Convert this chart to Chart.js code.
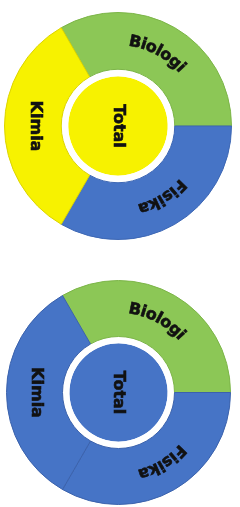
<!DOCTYPE html>
<html>
<head>
<meta charset="utf-8">
<script src="https://cdn.jsdelivr.net/npm/chart.js@4/dist/chart.umd.min.js"></script>
<style>
  html, body { margin: 0; padding: 0; background: #fff; }
  #wrap { position: relative; width: 240px; height: 507px; overflow: hidden; }
  canvas { position: absolute; left: 0; }
  #c1 { top: 0; }
  #c2 { top: 253px; }
</style>
</head>
<body>
<div id="wrap">
  <canvas id="c1" width="240" height="253"></canvas>
  <canvas id="c2" width="240" height="254"></canvas>
</div>
<script>
// mata pelajaran - tiga bagian sama besar
const subjects    = ['Biologi', 'Fisika', 'Kimia']
const shares      = [1, 1, 1]
const centerLabel = 'Total'
const centerValue = [1]
const gapValue    = [1]

// warna per grafik
const topColors    = ['#8cc756', '#4674c6', '#f7f200']
const topBorders   = ['#7cb548', '#3d67b4', '#dcd400']
const topCenter    = '#f7f200'
const bottomColors  = ['#8cc756', '#4674c6', '#4674c6']
const bottomBorders = ['#7cb548', '#3b62ac', '#3b62ac']
const bottomCenter  = '#4674c6'

const straightLabels = ['Kimia']
const FONT = 'bold 16px "DejaVu Sans", sans-serif'

function arcText (ctx, text, cx, cy, r, mid) {
  const total = ctx.measureText(text).width
  let a = mid - total / r / 2
  for (const ch of text) {
    const w = ctx.measureText(ch).width
    const ang = a + w / r / 2
    ctx.save()
    ctx.translate(cx + r * Math.cos(ang), cy + r * Math.sin(ang))
    ctx.rotate(ang + Math.PI / 2)
    ctx.strokeText(ch, 0, 0)
    ctx.fillText(ch, 0, 0)
    ctx.restore()
    a += w / r
  }
}

function flatText (ctx, text, x, y) {
  ctx.save()
  ctx.translate(x, y)
  ctx.rotate(Math.PI / 2)
  ctx.strokeText(text, 0, 0)
  ctx.fillText(text, 0, 0)
  ctx.restore()
}

const labelPlugin = {
  id: 'ringLabels',
  afterDatasetsDraw (chart) {
    const ctx = chart.ctx
    ctx.save()
    ctx.font = FONT
    ctx.fillStyle = '#111'
    ctx.strokeStyle = '#111'
    ctx.lineWidth = 0.6
    ctx.textAlign = 'center'
    ctx.textBaseline = 'middle'

    const meta = chart.getDatasetMeta(0)
    meta.data.forEach((el, i) => {
      const { x, y, startAngle, endAngle, innerRadius, outerRadius } =
        el.getProps(['x', 'y', 'startAngle', 'endAngle', 'innerRadius', 'outerRadius'], true)
      const mid = (startAngle + endAngle) / 2
      const r = (innerRadius + outerRadius) / 2
      const name = chart.data.labels[i]
      if (straightLabels.includes(name)) {
        flatText(ctx, name, x + (r - 2) * Math.cos(mid), y + r * Math.sin(mid))
      } else {
        arcText(ctx, name, x, y, r, mid - 0.03)
      }
    })

    const inner = chart.getDatasetMeta(2).data[0]
    if (inner) flatText(ctx, centerLabel, inner.x, inner.y)
    ctx.restore()
  }
}

function makeChart (id, colors, borders, centerColor, padding) {
  return new Chart(document.getElementById(id), {
    type: 'pie',
    data: {
      labels: subjects,
      datasets: [
        { data: shares, backgroundColor: colors, borderColor: borders, borderWidth: 1, weight: 57 },
        { data: gapValue, backgroundColor: '#ffffff', borderWidth: 0, weight: 7 },
        { data: centerValue, backgroundColor: centerColor, borderWidth: 0, weight: 50 }
      ]
    },
    options: {
      responsive: false,
      animation: false,
      rotation: -30,
      layout: { padding },
      plugins: { legend: { display: false }, tooltip: { enabled: false } }
    },
    plugins: [labelPlugin]
  })
}

makeChart('c1', topColors, topBorders, topCenter, { left: 4, right: 8, top: 12, bottom: 13 })
makeChart('c2', bottomColors, bottomBorders, bottomCenter, { left: 6, right: 9, top: 27, bottom: 2 })
</script>
</body>
</html>
